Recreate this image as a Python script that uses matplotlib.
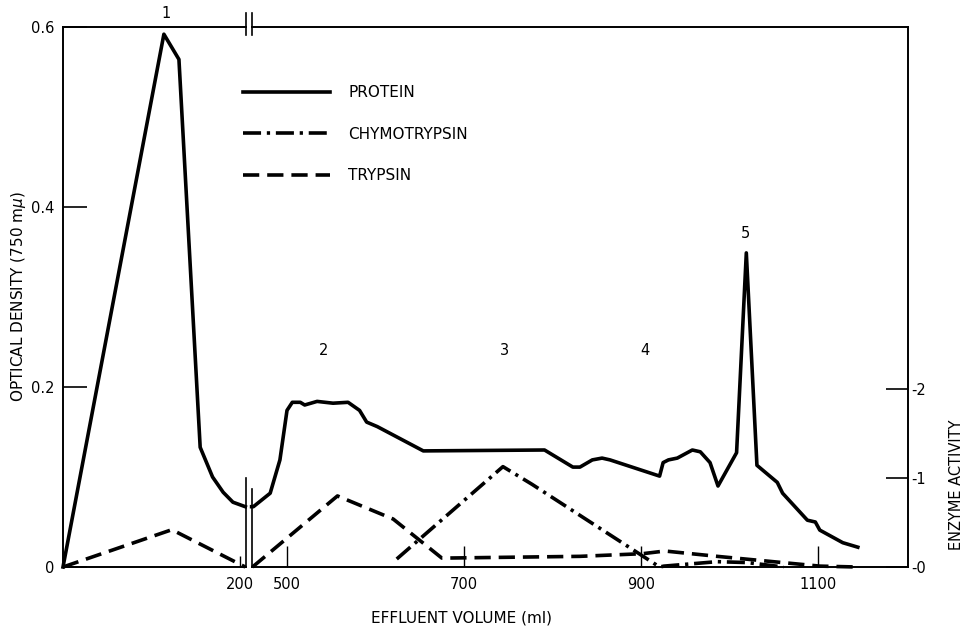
import matplotlib
matplotlib.use("Agg")
import matplotlib.pyplot as plt
from matplotlib.lines import Line2D

# protein, optical density (750 mu), two segments of the broken volume axis
protein_ml_a = [0, 114, 131, 155, 169, 181, 192, 206]
protein_od_a = [0.0, 0.592, 0.564, 0.133, 0.100, 0.083, 0.072, 0.067]
protein_ml_b = [460, 462, 481, 492, 500, 506, 515, 520, 534, 552, 569, 582, 590, 602,
                654, 791, 823, 831, 845, 856, 865, 921, 925, 931, 941, 958, 967, 978,
                987, 1008, 1019, 1031, 1054, 1060, 1088, 1097, 1102, 1128, 1145]
protein_od_b = [0.067, 0.067, 0.082, 0.119, 0.174, 0.183, 0.183, 0.180, 0.184, 0.182,
                0.183, 0.174, 0.161, 0.156, 0.129, 0.130, 0.111, 0.111, 0.119, 0.121,
                0.119, 0.101, 0.116, 0.119, 0.121, 0.130, 0.128, 0.116, 0.090, 0.127,
                0.349, 0.113, 0.094, 0.082, 0.052, 0.050, 0.041, 0.027, 0.022]

# enzyme activity
tryp_ml_a = [0, 123, 206]
tryp_act_a = [0.0, 0.42, 0.0]
tryp_ml_b = [461, 557, 620, 675, 831, 902, 927, 986, 1102, 1144]
tryp_act_b = [0.0, 0.80, 0.54, 0.10, 0.12, 0.15, 0.18, 0.12, 0.01, 0.0]
chymo_ml = [624, 744, 777, 921, 926, 986, 1020, 1061]
chymo_act = [0.09, 1.13, 0.93, 0.0, 0.01, 0.06, 0.05, 0.0]

# peak numbers
peak_names = ["1", "2", "3", "4", "5"]
peak_ml = [117, 541, 746, 905, 1018]
peak_od = [0.615, 0.241, 0.241, 0.241, 0.37]

od_ticks = [0, 0.2, 0.4, 0.6]
od_labels = ["0", "0.2", "0.4", "0.6"]
act_ticks = [0, 1, 2]
act_labels = ["-0", "-1", "-2"]

W, H = 970, 635
fig = plt.figure(figsize=(W / 100, H / 100), dpi=100)
plt.rcParams['font.family'] = ['DejaVu Sans']

y0, y1 = 567, 27
ax_a = fig.add_axes([63 / W, 1 - y0 / H, (246 - 63) / W, (y0 - y1) / H])
ax_b = fig.add_axes([252 / W, 1 - y0 / H, (908 - 252) / W, (y0 - y1) / H])
ax_a2 = ax_a.twinx()
ax_b2 = ax_b.twinx()

px_per_ml = 0.885
ax_a.set_xlim(0, (246 - 63) / px_per_ml)
ax_b.set_xlim(500 + (252 - 287) / px_per_ml, 1100 + (908 - 818) / px_per_ml)
for a in (ax_a, ax_b):
    a.set_ylim(0, 0.6)
for a in (ax_a2, ax_b2):
    a.set_ylim(0, 6.08)
    for s in a.spines.values():
        s.set_visible(False)

lw = 2.6
dash = (0, (4.5, 2.2))
dashdot = (0, (5, 1.6, 0.9, 1.6))
ax_a.plot(protein_ml_a, protein_od_a, color='k', lw=lw, clip_on=False)
ax_b.plot(protein_ml_b, protein_od_b, color='k', lw=lw, clip_on=False)
ax_a2.plot(tryp_ml_a, tryp_act_a, color='k', lw=lw, ls=dash, clip_on=False)
ax_b2.plot(tryp_ml_b, tryp_act_b, color='k', lw=lw, ls=dash, clip_on=False)
ax_b2.plot(chymo_ml, chymo_act, color='k', lw=lw, ls=dashdot, clip_on=False)

# spines and ticks
for a in (ax_a, ax_b):
    for s in a.spines.values():
        s.set_linewidth(1.4)
ax_a.spines['right'].set_visible(False)
ax_b.spines['left'].set_visible(False)

ax_a.set_yticks(od_ticks)
ax_a.set_yticklabels(od_labels)
ax_a.tick_params(axis='y', direction='in', length=17, width=1.2, labelsize=10.5, pad=6)
ax_a.set_xticks([200])
ax_a.tick_params(axis='x', direction='in', length=8, width=1.0, labelsize=10.5, pad=7)
ax_b.set_yticks([])
ax_b.set_xticks([500, 700, 900, 1100])
ax_b.tick_params(axis='x', direction='in', length=15, width=1.0, labelsize=10.5, pad=7)
ax_a2.set_yticks([])
ax_b2.set_yticks(act_ticks)
ax_b2.set_yticklabels(act_labels)
ax_b2.tick_params(axis='y', direction='in', length=16, width=1.2, labelsize=10.5, pad=2)

# break marks
kw = dict(color='k', lw=1.2, clip_on=False)
ax_a.plot([1, 1], [0, 0.165], transform=ax_a.transAxes, **kw)
ax_a.plot([1, 1], [0.985, 1.025], transform=ax_a.transAxes, **kw)
ax_b.plot([0, 0], [0, 0.145], transform=ax_b.transAxes, **kw)
ax_b.plot([0, 0], [0.985, 1.025], transform=ax_b.transAxes, **kw)

# peak numbers
for name, x, y in zip(peak_names, peak_ml, peak_od):
    target = ax_a if x < 300 else ax_b
    target.text(x, y, name, ha='center', va='center', fontsize=10.5, clip_on=False)

ax_a.set_ylabel("OPTICAL DENSITY (750 m$\\mu$)", fontsize=11, labelpad=2)
fig.text(462 / W, 1 - 618 / H, "EFFLUENT VOLUME (ml)", ha='center', va='center',
         fontsize=11)
fig.text(957 / W, 1 - 485 / H, "ENZYME ACTIVITY", ha='center', va='center',
         rotation=90, fontsize=10.5)

handles = [Line2D([], [], color='k', lw=lw),
           Line2D([], [], color='k', lw=lw, ls=dashdot),
           Line2D([], [], color='k', lw=lw, ls=dash)]
fig.legend(handles, ["PROTEIN", "CHYMOTRYPSIN", "TRYPSIN"], loc='upper left',
           bbox_to_anchor=(243 / W, 1 - 85 / H), frameon=False, fontsize=11,
           handlelength=5.7, handletextpad=1.2, labelspacing=1.75,
           borderpad=0, borderaxespad=0)

fig.savefig("out.png", dpi=100, facecolor='white')
